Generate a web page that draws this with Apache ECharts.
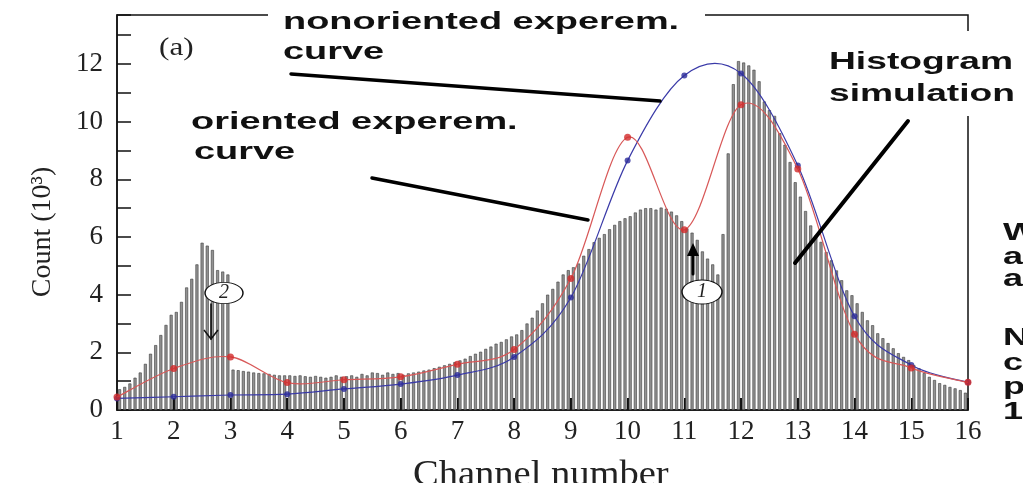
<!DOCTYPE html>
<html>
<head>
<meta charset="utf-8">
<script src="https://cdn.jsdelivr.net/npm/echarts@6/dist/echarts.min.js"></script>
<style>html,body{margin:0;padding:0;background:#fff;}#c{width:1023px;height:483px;}</style>
</head>
<body>
<div id="c"></div>
<script>
// Channel tick labels (x axis)
const channelTicks = [1,2,3,4,5,6,7,8,9,10,11,12,13,14,15,16];
// Experimental curves (thousands of counts) at each channel
const orientedCurve    = [0.45,1.44,1.84,0.95,1.05,1.15,1.59,2.10,4.56,9.46,6.25,10.59,8.36,2.63,1.46,0.96];
const nonorientedCurve = [0.40,0.46,0.52,0.55,0.73,0.90,1.21,1.84,3.90,8.65,11.60,11.67,8.48,3.25,1.56,0.96];
// Histogram simulation (thousands), 11 bins per channel, from channel 1 to 16
const simCounts = [
  0.72,0.80,0.92,1.12,1.30,1.60,1.95,2.25,2.60,2.95,3.30,
  3.40,3.75,4.25,4.55,5.05,5.80,5.70,5.55,4.85,4.80,4.70,
  1.40,1.38,1.35,1.33,1.30,1.28,1.27,1.25,1.22,1.20,1.20,
  1.20,1.18,1.20,1.17,1.15,1.18,1.15,1.12,1.15,1.20,1.15,
  1.17,1.20,1.15,1.25,1.20,1.30,1.28,1.22,1.30,1.25,1.28,
  1.22,1.27,1.30,1.33,1.37,1.40,1.45,1.50,1.55,1.60,1.66,
  1.72,1.78,1.87,1.95,2.02,2.12,2.20,2.30,2.36,2.45,2.55,
  2.62,2.77,3.00,3.20,3.45,3.70,4.00,4.20,4.45,4.70,4.85,
  4.95,5.08,5.35,5.58,5.82,5.97,6.10,6.27,6.42,6.55,6.65,
  6.72,6.85,6.95,7.00,7.00,6.95,7.02,6.98,6.88,6.75,6.55,
  6.30,6.15,5.90,5.50,5.25,5.05,4.70,6.10,8.90,11.30,12.10,
  12.05,11.95,11.80,11.40,10.70,10.40,10.20,9.60,9.20,8.60,7.90,
  7.40,6.90,6.40,6.05,5.83,5.48,5.19,4.84,4.50,4.15,3.98,
  3.70,3.40,3.11,2.94,2.66,2.49,2.32,2.14,1.97,1.84,1.73,
  1.56,1.45,1.28,1.15,1.04,0.93,0.87,0.80,0.75,0.69,0.60
];
const binLabels = simCounts.map((_, i) => 'b' + i);

const serif = '"Liberation Serif", "Times New Roman", serif';
const sans = '"Liberation Sans", Arial, sans-serif';

const chart = echarts.init(document.getElementById('c'), null, {renderer: 'canvas'});

function label(text, x, y, sx, extra) {
  return Object.assign({
    type: 'text', x: x, y: y, scaleX: sx, z: 100,
    style: {text: text, font: 'bold 24px ' + sans, fill: '#111',
            textAlign: 'left', textVerticalAlign: 'middle', align: 'left', verticalAlign: 'middle'}
  }, extra || {});
}
function stroke(x1, y1, x2, y2, w) {
  return {type: 'line', z: 100, shape: {x1: x1, y1: y1, x2: x2, y2: y2},
          style: {stroke: '#000', lineWidth: w, lineCap: 'round'}};
}
// Smooth curve through the experimental points (Catmull-Rom segments in pixel space)
function curveRenderer(curve, color) {
  const n = curve.length;
  return function (params, api) {
    const i = params.dataIndex;
    if (i >= n - 1) return null;
    const P = j => { const k = Math.max(0, Math.min(n - 1, j)); return api.coord([channelTicks[k], curve[k]]); };
    const p0 = P(i - 1), p1 = P(i), p2 = P(i + 1), p3 = P(i + 2);
    return {
      type: 'bezierCurve',
      shape: {x1: p1[0], y1: p1[1], x2: p2[0], y2: p2[1],
              cpx1: p1[0] + (p2[0] - p0[0]) / 6, cpy1: p1[1] + (p2[1] - p0[1]) / 6,
              cpx2: p2[0] - (p3[0] - p1[0]) / 6, cpy2: p2[1] - (p3[1] - p1[1]) / 6},
      style: {stroke: color, lineWidth: 1.2, fill: null}
    };
  };
}
const bluePts = channelTicks.map((c, i) => [c, nonorientedCurve[i]]);
const redPts = channelTicks.map((c, i) => [c, orientedCurve[i]]);

chart.setOption({
  animation: false,
  backgroundColor: '#fff',
  grid: {left: 117, right: 55, top: 15, bottom: 73, show: true,
         borderColor: '#111', borderWidth: 1.5, backgroundColor: 'transparent'},
  xAxis: [
    {type: 'category', data: binLabels, show: false, position: 'top', boundaryGap: true},
    {type: 'value', min: 1, max: 16, interval: 1, position: 'bottom',
     axisLine: {lineStyle: {color: '#111', width: 1.5}},
     axisTick: {inside: true, length: 12, lineStyle: {color: '#111', width: 2}},
     axisLabel: {fontFamily: serif, fontSize: 27, color: '#222', margin: 8},
     splitLine: {show: false}}
  ],
  yAxis: [{
    type: 'value', min: 0, max: 13.7, interval: 1,
    axisLine: {show: true, lineStyle: {color: '#111', width: 1.5}},
    axisTick: {show: true, inside: true, length: 14, lineStyle: {color: '#111', width: 1.5}},
    axisLabel: {fontFamily: serif, fontSize: 27, color: '#222', margin: 14,
                formatter: v => (v % 2 === 0 && v <= 12) ? String(v) : ''},
    splitLine: {show: false}
  }],
  series: [
    {type: 'bar', xAxisIndex: 0, yAxisIndex: 0, data: simCounts, barWidth: 3,
     itemStyle: {color: '#929292', borderColor: '#3a3a3a', borderWidth: 0.6}, z: 1},
    {type: 'custom', xAxisIndex: 1, yAxisIndex: 0, z: 3, data: bluePts,
     encode: {x: 0, y: 1}, renderItem: curveRenderer(nonorientedCurve, '#3a3aa8')},
    {type: 'scatter', xAxisIndex: 1, yAxisIndex: 0, z: 4, data: bluePts,
     symbol: 'circle', symbolSize: 6, itemStyle: {color: '#2a2a9a'}},
    {type: 'custom', xAxisIndex: 1, yAxisIndex: 0, z: 5, data: redPts,
     encode: {x: 0, y: 1}, renderItem: curveRenderer(orientedCurve, '#d85858')},
    {type: 'scatter', xAxisIndex: 1, yAxisIndex: 0, z: 6, data: redPts,
     symbol: 'circle', symbolSize: 7, itemStyle: {color: '#d22a2a'}}
  ],
  graphic: {elements: [
    {type: 'rect', z: 99, shape: {x: 268, y: 7, width: 437, height: 16}, style: {fill: '#fff'}},
    {type: 'rect', z: 99, shape: {x: 960, y: 31, width: 16, height: 85}, style: {fill: '#fff'}},
    label('nonoriented experem.', 283, 22, 1.58),
    label('curve', 283, 52, 1.58),
    label('oriented experem.', 191, 122, 1.58),
    label('curve', 194, 152, 1.58),
    label('Histogram', 829, 62, 1.55),
    label('simulation', 829, 94, 1.55),
    label('W', 1003, 233, 1.5),
    label('a', 1003, 257, 1.5),
    label('a', 1003, 279, 1.5),
    label('N', 1003, 338, 1.5),
    label('c', 1003, 363, 1.5),
    label('p', 1003, 387, 1.5),
    label('1', 1003, 412, 1.5),
    {type: 'text', x: 159, y: 48, scaleX: 1.2, z: 100,
     style: {text: '(a)', font: '26px ' + serif, fill: '#222', textAlign: 'left', textVerticalAlign: 'middle', align: 'left', verticalAlign: 'middle'}},
    {type: 'text', x: 43, y: 232, rotation: Math.PI / 2, z: 100,
     style: {text: 'Count (10³)', font: '28px ' + serif, fill: '#222', textAlign: 'center', textVerticalAlign: 'middle', align: 'center', verticalAlign: 'middle'}},
    {type: 'text', x: 413, y: 476, scaleX: 1.07, z: 100,
     style: {text: 'Channel number', font: '36px ' + serif, fill: '#222', textAlign: 'left', textVerticalAlign: 'middle', align: 'left', verticalAlign: 'middle'}},
    stroke(291, 74, 660, 101, 3.5),
    stroke(372, 178, 588, 220, 3.5),
    stroke(795, 263, 908, 121, 4),
    // circle 2 with arrow
    {type: 'circle', z: 100, x: 224, y: 293, scaleX: 1, scaleY: 0.56, shape: {cx: 0, cy: 0, r: 19},
     style: {fill: '#fff', stroke: '#111', lineWidth: 1.5, strokeNoScale: true}},
    {type: 'text', x: 224, y: 293, z: 101,
     style: {text: '2', font: 'italic 20px ' + serif, fill: '#222', textAlign: 'center', textVerticalAlign: 'middle', align: 'center', verticalAlign: 'middle'}},
    stroke(211, 304, 211, 339, 1.5),
    {type: 'polyline', z: 100, shape: {points: [[204, 330], [211, 339], [218, 330]]}, style: {stroke: '#111', lineWidth: 1.5, fill: null}},
    // circle 1 with arrow
    {type: 'circle', z: 100, x: 702, y: 292, scaleX: 1, scaleY: 0.6, shape: {cx: 0, cy: 0, r: 20},
     style: {fill: '#fff', stroke: '#111', lineWidth: 1.5, strokeNoScale: true}},
    {type: 'text', x: 702, y: 292, z: 101,
     style: {text: '1', font: 'italic 20px ' + serif, fill: '#222', textAlign: 'center', textVerticalAlign: 'middle', align: 'center', verticalAlign: 'middle'}},
    stroke(693, 274, 693, 252, 3),
    {type: 'polygon', z: 100, shape: {points: [[687, 256], [693, 243], [699, 256]]}, style: {fill: '#000'}}
  ]}
});
</script>
</body>
</html>
